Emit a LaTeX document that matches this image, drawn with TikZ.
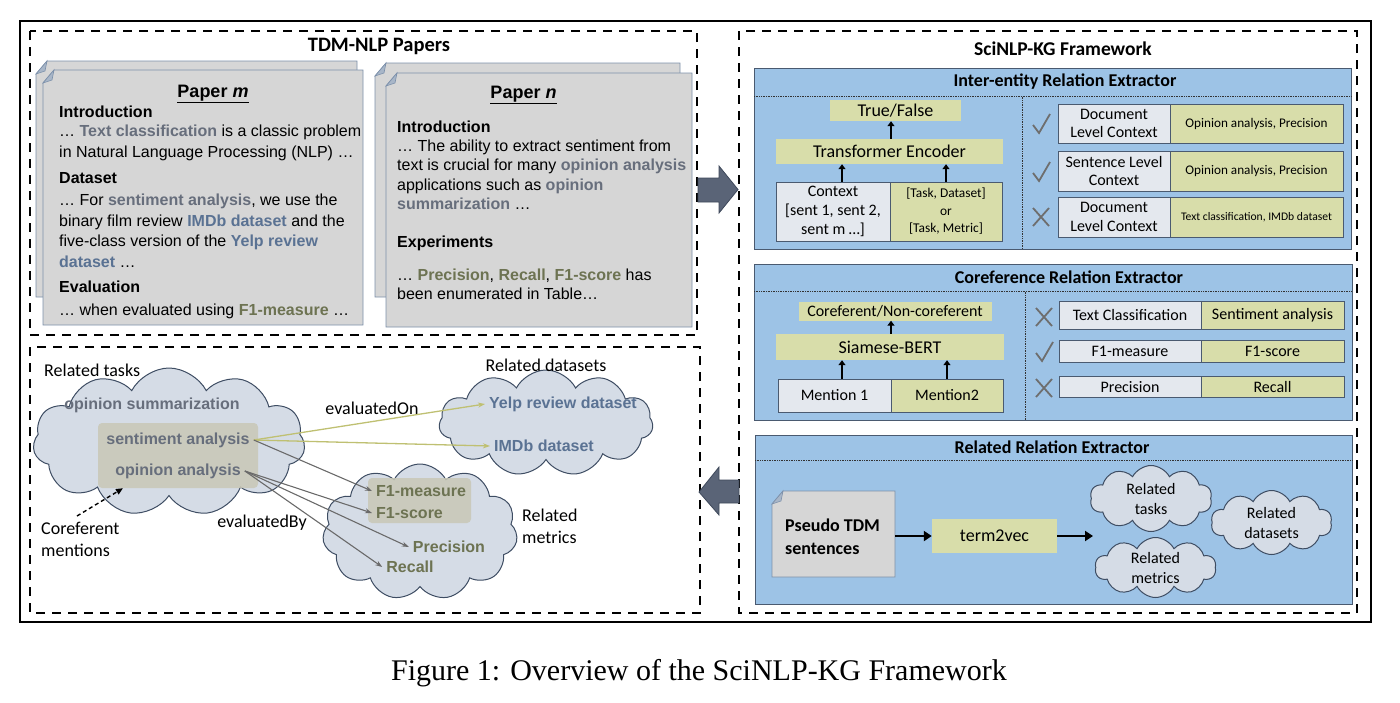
\documentclass[tikz,border=0pt]{standalone}
\usepackage{fontspec}
\setmainfont{Liberation Sans}
\newfontfamily\cali{Carlito}
\newfontfamily\serf{Liberation Serif}
\usetikzlibrary{shapes.symbols,arrows.meta}
\definecolor{panelblue}{HTML}{9DC3E6}
\definecolor{paneledge}{HTML}{4A5A70}
\definecolor{olivebox}{HTML}{D8DDAA}
\definecolor{lgraybox}{HTML}{E4E8EE}
\definecolor{paperfill}{HTML}{D6D6D6}
\definecolor{paperedge}{HTML}{7C90AA}
\definecolor{foldfill}{HTML}{A8B6C8}
\definecolor{cloudfill}{HTML}{D5DCE6}
\definecolor{cloudedge}{HTML}{3E4D63}
\definecolor{hlfill}{HTML}{C9C8B6}
\definecolor{taskc}{HTML}{676E7C}
\definecolor{datac}{HTML}{5A7293}
\definecolor{metc}{HTML}{6D7352}
\definecolor{markc}{HTML}{6E6E6E}
\definecolor{arrowfill}{HTML}{5A6477}
\definecolor{arrowedge}{HTML}{3E485A}
\definecolor{yarrow}{HTML}{BFC072}
\definecolor{garrow}{HTML}{6A6A6A}
\newcommand\tkw[1]{\textbf{\color{taskc}#1}}
\newcommand\dsw[1]{\textbf{\color{datac}#1}}
\newcommand\mtw[1]{\textbf{\color{metc}#1}}
\newcommand\fs[2]{\fontsize{#1}{#2}\selectfont}
\newcommand\drawsheet[1]{%
  \draw[sheet] ([yshift=-13pt]#1.north west) -- ([xshift=11pt]#1.north west) -- (#1.north east) -- (#1.south east) -- (#1.south west) -- cycle;
  \draw[fold] ([yshift=-13pt]#1.north west) -- ([xshift=11pt]#1.north west) -- ([xshift=9pt,yshift=-10pt]#1.north west) -- cycle;}
\newcommand\mkchk[2]{\draw[markline] (#1-8,#2+1) -- (#1-2,#2+9) -- (#1+9,#2-10);}
\newcommand\mkcrs[2]{\draw[markline] (#1-8,#2-9) -- (#1+8,#2+9) (#1-8,#2+9) -- (#1+8,#2-9);}
\tikzset{
  dbox/.style={draw=black, line width=2.6pt, dash pattern=on 9pt off 7pt},
  sheetbox/.style={inner sep=0, outer sep=0},
  sheet/.style={draw=paperedge, fill=paperfill, line width=0.8pt},
  fold/.style={draw=paperedge, fill=foldfill, line width=0.6pt},
  ptxt/.style={anchor=base west, inner sep=0, font=\fs{16}{19}},
  ptitle/.style={anchor=base, inner sep=0, font=\bfseries\fs{18}{20}},
  panel/.style={draw=paneledge, fill=panelblue, line width=0.9pt, inner sep=0},
  ptl/.style={anchor=base, inner sep=0, font=\cali\bfseries\fs{18}{20}},
  sepline/.style={draw=black!80, line width=0.7pt, densely dotted},
  obox/.style={fill=olivebox, inner sep=0, align=center},
  gbox/.style={fill=lgraybox, draw=paneledge, line width=0.8pt, inner sep=0, align=center},
  oboxd/.style={fill=olivebox, draw=paneledge, line width=0.8pt, inner sep=0, align=center},
  uparr/.style={-{Triangle[length=5pt,width=7pt]}, line width=2.2pt, black},
  bigarr/.style={-{Triangle[length=8pt,width=10pt]}, line width=2.6pt, black},
  markline/.style={draw=markc, line width=1.8pt},
  cloudsty/.style={cloud, cloud puffs=11, cloud puff arc=125, cloud ignores aspect, draw=cloudedge, fill=cloudfill, line width=1pt, inner sep=0},
  hl/.style={fill=hlfill, opacity=0.85, inner sep=0, rounded corners=4pt},
  ctext/.style={font=\bfseries\fs{16}{18}, inner sep=4pt},
  clab/.style={font=\cali\fs{18}{22}, inner sep=0},
  yarr/.style={draw=yarrow, line width=1.3pt, -{Stealth[length=7pt,width=5pt]}},
  garr/.style={draw=garrow, line width=1.1pt, -{Stealth[length=7pt,width=5pt]}},
  blockarr/.style={fill=arrowfill, draw=arrowedge, line width=0.8pt}
}
\begin{document}
\begin{tikzpicture}[x=1pt,y=-1pt]
\useasboundingbox (0,0) rectangle (1400,702);
% outer frame and dashed regions
\draw[line width=2.6pt] (20,21) rectangle (1371,622);
\draw[dbox] (30,31) rectangle (697,335);
\draw[dbox] (30,347) rectangle (700,613);
\draw[dbox] (739,31) rectangle (1357,613);

% ---------- TDM-NLP papers ----------
\node[font=\cali\bfseries\fs{20.5}{22}, anchor=base, inner sep=0] (tdmt) at (379,51.7) {TDM-NLP Papers};

\node[sheetbox, minimum width=321, minimum height=236] (pmb) at (196.5,179) {};
\drawsheet{pmb}
\node[sheetbox, minimum width=320, minimum height=255] (pmf) at (203,197.5) {};
\drawsheet{pmf}
\node[ptitle] (pmt) at (213,97) {\underline{Paper \textit{m}}};
\node[ptxt] (m1) at (59,117.7) {\bfseries Introduction};
\node[ptxt] (m2) at (59,136) {… \tkw{Text classification} is a classic problem};
\node[ptxt] (m3) at (59,157) {in Natural Language Processing (NLP) …};
\node[ptxt] (m4) at (59,183) {\bfseries Dataset};
\node[ptxt] (m5) at (59,205) {… For \tkw{sentiment analysis}, we use the};
\node[ptxt] (m6) at (59,226) {binary film review \dsw{IMDb dataset} and the};
\node[ptxt] (m7) at (59,246.5) {five-class version of the \dsw{Yelp review}};
\node[ptxt] (m8) at (59,267) {\dsw{dataset} …};
\node[ptxt] (m9) at (59,292) {\bfseries Evaluation};
\node[ptxt] (m10) at (59,315) {… when evaluated using \mtw{F1-measure} …};

\node[sheetbox, minimum width=305, minimum height=234] (pnb) at (527.5,180) {};
\drawsheet{pnb}
\node[sheetbox, minimum width=306, minimum height=254] (pnf) at (539,200) {};
\drawsheet{pnf}
\node[ptitle] (pnt) at (523.5,98) {\underline{Paper \textit{n}}};
\node[ptxt] (n1) at (397,132.3) {\bfseries Introduction};
\node[ptxt] (n2) at (397,151) {… The ability to extract sentiment from};
\node[ptxt] (n3) at (397,170.5) {text is crucial for many \tkw{opinion analysis}};
\node[ptxt] (n4) at (397,190) {applications such as \tkw{opinion}};
\node[ptxt] (n5) at (397,209) {\tkw{summarization} …};
\node[ptxt] (n6) at (397,247) {\bfseries Experiments};
\node[ptxt] (n7) at (397,280) {… \mtw{Precision}, \mtw{Recall}, \mtw{F1-score} has};
\node[ptxt] (n8) at (397,299) {been enumerated in Table…};

% block arrows
\draw[blockarr] (698,178) -- (719,178) -- (719,166) -- (738,189.5) -- (719,213) -- (719,202) -- (698,202) -- cycle;
\draw[blockarr] (739,480) -- (719,480) -- (719,467) -- (699,492) -- (719,515) -- (719,503) -- (739,503) -- cycle;

% ---------- SciNLP-KG framework ----------
\node[font=\cali\bfseries\fs{19.5}{22}, anchor=base, inner sep=0] (scit) at (1063,55) {SciNLP-KG Framework};

% Inter-entity panel
\node[panel, minimum width=597, minimum height=181] (p1) at (1052.5,158.5) {};
\node[ptl] (p1t) at (1065,86.7) {Inter-entity Relation Extractor};
\draw[sepline] (754,96.7) -- (1351,96.7);
\draw[sepline] (1022,96.7) -- (1022,249);
\node[obox, minimum width=131, minimum height=21, font=\cali\fs{18}{20}] (tf) at (895.5,110.5) {True/False};
\node[obox, minimum width=227, minimum height=25, font=\cali\fs{18}{20}] (enc) at (889.5,151.5) {Transformer Encoder};
\node[gbox, minimum width=114, minimum height=59, font=\cali\fs{16}{19}] (ctx) at (833,211.5) {Context\\{[}sent 1, sent 2,\\sent m …{]}};
\node[oboxd, minimum width=112, minimum height=59, font=\cali\fs{13.4}{17.5}] (tsk) at (946,211.5) {{[}Task, Dataset{]}\\or\\{[}Task, Metric{]}};
\draw[uparr] ([xshift=9pt]ctx.north) -- ([xshift=9pt]ctx.north |- enc.south);
\draw[uparr] (tsk.north) -- (tsk.north |- enc.south);
\draw[uparr] ([xshift=1.5pt]enc.north) -- ([xshift=1.5pt]enc.north |- tf.south);

\node[gbox, minimum width=112, minimum height=39, font=\cali\fs{16}{18.5}] (r1l) at (1114,123.5) {Document\\Level Context};
\node[oboxd, minimum width=173, minimum height=39, font=\cali\fs{13.2}{15}] (r1r) at (1256.5,123.5) {Opinion analysis, Precision};
\node[gbox, minimum width=112, minimum height=40, font=\cali\fs{16}{18.5}] (r2l) at (1114,171) {Sentence Level\\Context};
\node[oboxd, minimum width=173, minimum height=40, font=\cali\fs{13.2}{15}] (r2r) at (1256.5,171) {Opinion analysis, Precision};
\node[gbox, minimum width=112, minimum height=40, font=\cali\fs{16}{18.5}] (r3l) at (1114,217) {Document\\Level Context};
\node[oboxd, minimum width=173, minimum height=40, font=\cali\fs{11.6}{14}] (r3r) at (1256.5,217) {Text classification, IMDb dataset};
\mkchk{1041}{124}
\mkchk{1041}{172}
\mkcrs{1041}{217}

% Coreference panel
\node[panel, minimum width=598, minimum height=156] (p2) at (1053,342) {};
\node[ptl] (p2t) at (1069,283.3) {Coreference Relation Extractor};
\draw[sepline] (754,291.7) -- (1352,291.7);
\draw[sepline] (1025,291.7) -- (1025,420);
\node[obox, minimum width=193, minimum height=19, font=\cali\fs{16}{18}] (cor) at (895,311) {Coreferent/Non-coreferent};
\node[obox, minimum width=228, minimum height=26, font=\cali\fs{18}{20}] (sia) at (890,347) {Siamese-BERT};
\node[gbox, minimum width=113, minimum height=33, font=\cali\fs{16}{18}] (mn1) at (834.5,395.5) {Mention 1};
\node[oboxd, minimum width=112, minimum height=33, font=\cali\fs{16}{18}] (mn2) at (947,395.5) {Mention2};
\draw[uparr] ([xshift=7.5pt]mn1.north) -- ([xshift=7.5pt]mn1.north |- sia.south);
\draw[uparr] (mn2.north) -- (mn2.north |- sia.south);
\draw[uparr] ([xshift=1pt]sia.north) -- ([xshift=1pt]sia.north |- cor.south);

\node[gbox, minimum width=142, minimum height=27.3, font=\cali\fs{16}{18}] (c1l) at (1130,315.3) {Text Classification};
\node[oboxd, minimum width=143, minimum height=27.3, font=\cali\fs{16}{18}] (c1r) at (1272.5,315.3) {Sentiment analysis};
\node[gbox, minimum width=142, minimum height=22, font=\cali\fs{16}{18}] (c2l) at (1130,351) {F1-measure};
\node[oboxd, minimum width=143, minimum height=22, font=\cali\fs{16}{18}] (c2r) at (1272.5,351) {F1-score};
\node[gbox, minimum width=142, minimum height=21, font=\cali\fs{16}{18}] (c3l) at (1130,387.2) {Precision};
\node[oboxd, minimum width=143, minimum height=21, font=\cali\fs{16}{18}] (c3r) at (1272.5,387.2) {Recall};
\mkcrs{1044}{317}
\mkchk{1044}{352}
\mkcrs{1044}{388}

% Related relation panel
\node[panel, minimum width=597, minimum height=169] (p3) at (1053.5,519.5) {};
\node[ptl] (p3t) at (1052,453) {Related Relation Extractor};
\draw[sepline] (755,460) -- (1352,460);
\node[sheetbox, minimum width=123, minimum height=86] (doc) at (833.5,534) {};
\drawsheet{doc}
\node[anchor=west, align=left, inner sep=0, font=\cali\bfseries\fs{18}{23}] (doct) at (785,536.5) {Pseudo TDM\\sentences};
\node[obox, minimum width=125, minimum height=34, font=\cali\fs{18}{20}] (t2v) at (994.5,536) {term2vec};
\coordinate (ce) at (1093,536);
\draw[bigarr] (doc.east |- t2v.west) -- (t2v.west);
\draw[bigarr] (t2v.east) -- (ce);
\node[cloudsty, cloud puffs=10, minimum width=122, minimum height=66] (rtask) at (1151,498.5) {};
\node[cloudsty, cloud puffs=10, minimum width=121, minimum height=64] (rdata) at (1271.5,522.5) {};
\node[cloudsty, cloud puffs=10, minimum width=121, minimum height=60] (rmet) at (1155.5,567.5) {};
\node[align=center, inner sep=0, font=\cali\fs{16}{20}] (rtaskt) at (rtask) {Related\\tasks};
\node[align=center, inner sep=0, font=\cali\fs{16}{20}] (rdatat) at (rdata) {Related\\datasets};
\node[align=center, inner sep=0, font=\cali\fs{16}{20}] (rmett) at (rmet) {Related\\metrics};

% ---------- knowledge graph (bottom left) ----------
\node[cloudsty, minimum width=272, minimum height=148] (ctask) at (169,442) {};
\node[cloudsty, minimum width=214, minimum height=106] (cdata) at (546,423) {};
\node[cloudsty, minimum width=195, minimum height=136] (cmet) at (420,532) {};
\node[hl, minimum width=160, minimum height=65] (hlt) at (178,455.5) {};
\node[hl, minimum width=103, minimum height=45] (hlm) at (419.5,500.5) {};

\node[ctext, text=taskc] (osum) at (152,405) {opinion summarization};
\node[ctext, text=taskc] (sa) at (178,440) {sentiment analysis};
\node[ctext, text=taskc] (oa) at (178,471) {opinion analysis};
\node[ctext, text=datac] (yelp) at (563,404) {Yelp review dataset};
\node[ctext, text=datac] (imdb) at (544,446) {IMDb dataset};
\node[ctext, text=metc, anchor=west] (f1m) at (372,491) {F1-measure};
\node[ctext, text=metc, anchor=west] (f1s) at (372,513) {F1-score};
\node[ctext, text=metc] (prec) at (449,547) {Precision};
\node[ctext, text=metc] (rec) at (410,567) {Recall};

\node[clab, anchor=base west] (lrt) at (44,376) {Related tasks};
\node[clab] (lrd) at (546,365) {Related datasets};
\node[clab, anchor=west, align=left] (lrm) at (522,526) {Related\\metrics};
\node[clab] (lon) at (372,408) {evaluatedOn};
\node[clab] (lby) at (262,523) {evaluatedBy};
\node[clab, anchor=west, align=left] (lcm) at (41,539) {Coreferent\\mentions};

\draw[yarr] (sa.east) -- (yelp.west);
\draw[yarr] (sa.east) -- (imdb.west);
\draw[garr] (sa.east) -- (f1m.west);
\draw[garr] (oa.east) -- (f1s.west);
\draw[garr] (oa.east) -- (prec.west);
\draw[garr] (oa.east) -- (rec.west);
\coordinate (cmst) at (77,516);
\draw[black, line width=1.4pt, dash pattern=on 4pt off 3pt, -{Triangle[length=7pt,width=6pt]}] (cmst) -- ([xshift=-55pt]hlt.south);

% caption
\node[font=\serf\fs{30}{34}, anchor=base, inner sep=0] (cap) at (699,680) {Figure 1: Overview of the SciNLP-KG Framework};
\end{tikzpicture}
\end{document}
